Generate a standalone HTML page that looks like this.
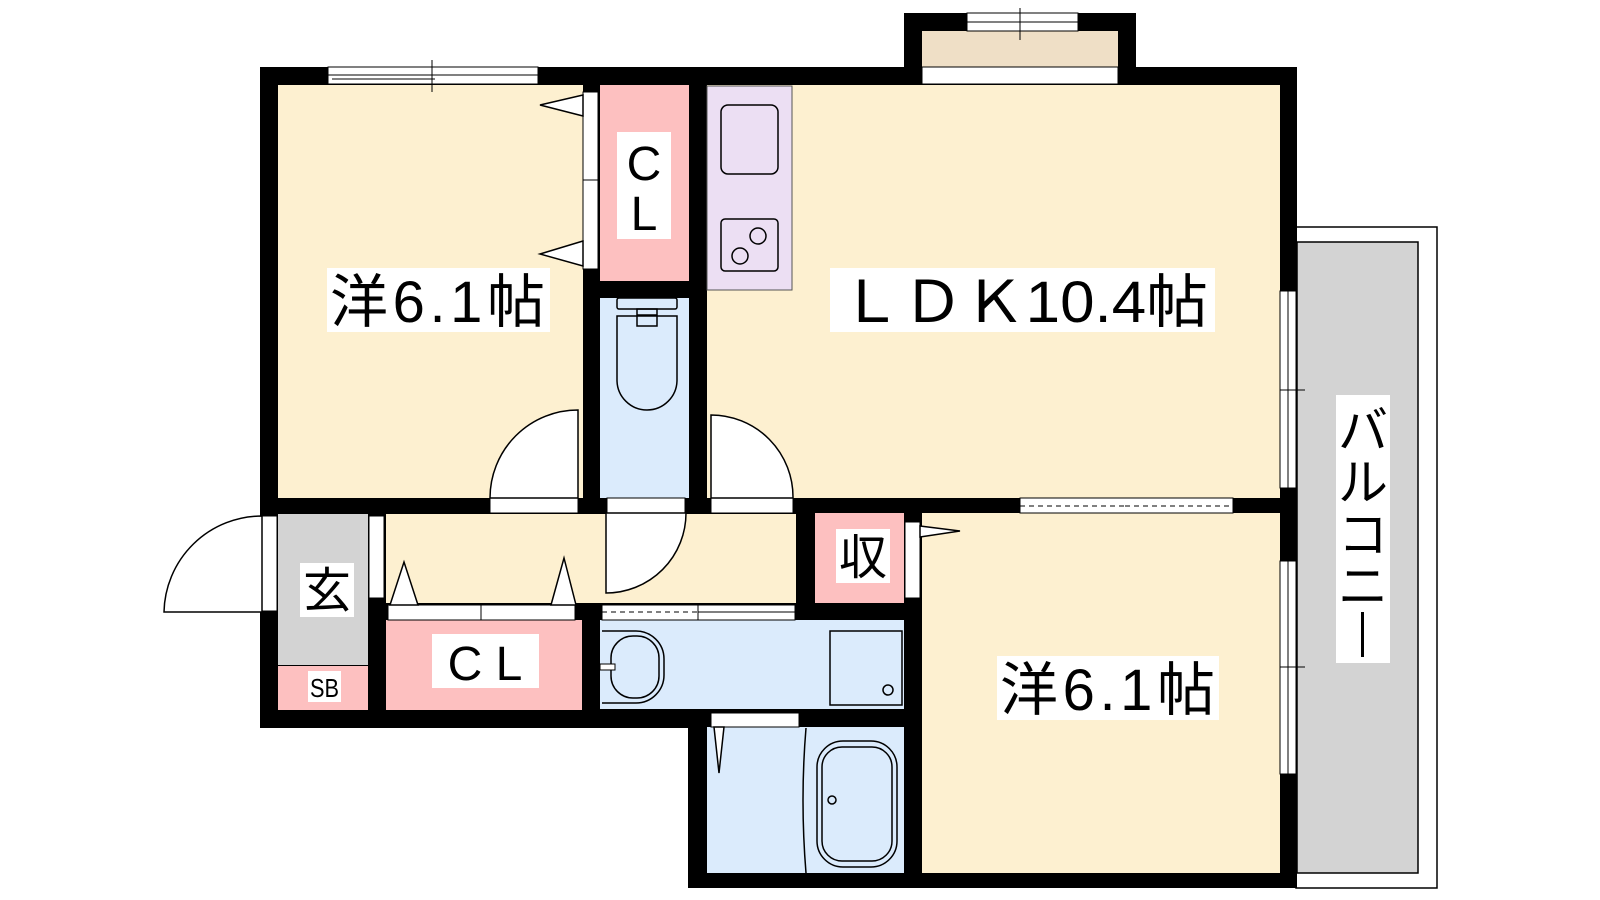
<!DOCTYPE html>
<html><head><meta charset="utf-8"><style>
html,body{margin:0;padding:0;background:#fff;width:1600px;height:900px;overflow:hidden}
svg{display:block}
text{font-family:"Liberation Sans","Noto Sans CJK JP",sans-serif;fill:#000}
</style></head><body>
<svg width="1600" height="900" viewBox="0 0 1600 900" xmlns="http://www.w3.org/2000/svg">
<rect x="1296" y="227" width="141" height="661" fill="#fff" stroke="#000" stroke-width="1.5"/>
<rect x="1297" y="242" width="121" height="631" fill="#d3d3d3" stroke="#000" stroke-width="1.5"/>
<rect x="260" y="67" width="1037" height="661" fill="#000"/>
<rect x="688" y="700" width="609" height="188" fill="#000"/>
<rect x="904" y="13" width="232" height="72" fill="#000"/>
<rect x="220" y="728" width="468" height="172" fill="#fff"/>
<rect x="278" y="85" width="305" height="413" fill="#fdf0d0"/>
<rect x="707" y="85" width="573" height="413" fill="#fdf0d0"/>
<rect x="922" y="31" width="196" height="36" fill="#efdfc6"/>
<rect x="922" y="67" width="196" height="17" fill="#fff" stroke="#000" stroke-width="1"/>
<rect x="600" y="85" width="89" height="196" fill="#fdc0c0"/>
<rect x="707" y="86" width="85" height="204" fill="#ecdff3" stroke="#555" stroke-width="1"/>
<rect x="600" y="298" width="89" height="200" fill="#dbebfc"/>
<rect x="278" y="514" width="90" height="151" fill="#d3d3d3"/>
<rect x="278" y="666" width="90" height="44" fill="#fdc0c0"/>
<line x1="278" y1="665.5" x2="368" y2="665.5" stroke="#000"/>
<rect x="386" y="514" width="410" height="89" fill="#fdf0d0"/>
<rect x="815" y="513" width="89" height="90" fill="#fdc0c0"/>
<rect x="386" y="620" width="196" height="90" fill="#fdc0c0"/>
<rect x="600" y="620" width="304" height="89" fill="#dbebfc"/>
<rect x="707" y="727" width="197" height="146" fill="#dbebfc"/>
<rect x="922" y="513" width="358" height="360" fill="#fdf0d0"/>
<g fill="#fff" stroke="#000" stroke-width="1">
<rect x="328" y="67" width="210" height="17"/>
<rect x="967" y="13" width="111" height="18"/>
<rect x="1280" y="291" width="16" height="197"/>
<rect x="1280" y="561" width="16" height="213"/>
<rect x="1020" y="498" width="213" height="15"/>
<rect x="583" y="92" width="15" height="88"/><rect x="583" y="180" width="15" height="89"/>
<rect x="490" y="498" width="88" height="15"/>
<rect x="607" y="498" width="78" height="15"/>
<rect x="711" y="498" width="82" height="15"/>
<rect x="262" y="516" width="15" height="95"/>
<rect x="369" y="516" width="15" height="82"/>
<rect x="388" y="605" width="93" height="15"/><rect x="481" y="605" width="94" height="15"/>
<rect x="602" y="605" width="96" height="15"/><rect x="698" y="605" width="97" height="15"/>
<rect x="711" y="713" width="88" height="14"/>
<rect x="905" y="522" width="15" height="76"/>
</g>
<g stroke="#000" stroke-width="1" fill="none">
<line x1="328" y1="75" x2="538" y2="75"/><line x1="332" y1="79" x2="435" y2="79"/>
<line x1="432" y1="60" x2="432" y2="92"/>
<line x1="967" y1="22" x2="1078" y2="22"/><line x1="1020" y1="8" x2="1020" y2="40"/>
<line x1="1288" y1="291" x2="1288" y2="488"/><line x1="1280" y1="390" x2="1305" y2="390"/>
<line x1="1288" y1="561" x2="1288" y2="774"/><line x1="1280" y1="667" x2="1305" y2="667"/>
<line x1="1020" y1="506" x2="1125" y2="506" stroke-dasharray="5,4"/><line x1="1125" y1="506" x2="1233" y2="506" stroke-dasharray="5,4"/>
<line x1="602" y1="612" x2="698" y2="612" stroke-dasharray="5,4"/>
<line x1="698" y1="612" x2="795" y2="612"/>
</g>
<g fill="#fff" stroke="#000" stroke-width="1.5">
<path d="M578 498 L578 410 A88 88 0 0 0 490 498 Z"/>
<path d="M711 498 L711 415 A82 82 0 0 1 793 498 Z"/>
<path d="M606 513 L686 513 A80 80 0 0 1 606 593 Z"/>
<path d="M262 612 L164 612 A98 98 0 0 1 262 516 Z"/>
<polygon points="583,95 540,105 583,116"/>
<polygon points="583,241 540,254 583,266"/>
<polygon points="390,605 404,562 418,605"/>
<polygon points="551,605 564,558 576,605"/>
<polygon points="920,526 960,531 920,537"/>
<polygon points="714,727 719,773 724,727"/>
</g>
<g fill="none" stroke="#000" stroke-width="1.5">
<rect x="721" y="105" width="57" height="69" rx="7"/>
<rect x="721" y="219" width="57" height="52" rx="4"/>
<circle cx="758" cy="236" r="8"/><circle cx="740" cy="256" r="8"/>
<rect x="617" y="298" width="60" height="11" rx="2"/>
<rect x="637" y="309" width="20" height="6"/>
<path d="M617 316 H677 V380 A30 30 0 0 1 617 380 Z"/>
<path d="M637 316 V326 H657 V316"/>
<path d="M602 631 H636 A28 28 0 0 1 664 659 V675 A28 28 0 0 1 636 703 H602"/>
<rect x="611" y="636" width="48" height="62" rx="22"/>
<rect x="830" y="631" width="72" height="74"/><circle cx="888" cy="690" r="5"/>
<path d="M806 728 Q800 800 806 873"/>
<rect x="817" y="741" width="80" height="126" rx="26"/>
<rect x="822" y="747" width="70" height="114" rx="20"/>
<circle cx="832" cy="800" r="4"/>
</g>
<rect x="600" y="664" width="15" height="6" fill="#fff" stroke="#000"/>
<g>
<rect x="327" y="268" width="223" height="64" fill="#fff"/>
<text x="330" y="322" font-size="58" textLength="215" lengthAdjust="spacing">洋6.1帖</text>
<rect x="830" y="268" width="385" height="64" fill="#fff"/>
<text x="840" y="322" font-size="58" textLength="368" lengthAdjust="spacingAndGlyphs">ＬＤＫ10.4帖</text>
<rect x="997" y="656" width="222" height="64" fill="#fff"/>
<text x="1000" y="710" font-size="58" textLength="215" lengthAdjust="spacing">洋6.1帖</text>
<rect x="1336" y="395" width="54" height="268" fill="#fff"/>
<text x="1363" y="448" font-size="50" text-anchor="middle">バ</text>
<text x="1363" y="500" font-size="50" text-anchor="middle">ル</text>
<text x="1363" y="552" font-size="50" text-anchor="middle">コ</text>
<text x="1363" y="604" font-size="50" text-anchor="middle">ニ</text>
<rect x="1361" y="612" width="3" height="45" fill="#000"/>
<rect x="617" y="132" width="54" height="107" fill="#fff"/>
<text x="644" y="180" font-size="48" text-anchor="middle">C</text>
<text x="644" y="230" font-size="48" text-anchor="middle">L</text>
<rect x="432" y="634" width="107" height="54" fill="#fff"/>
<text x="485" y="680" font-size="48" text-anchor="middle">C L</text>
<rect x="836" y="529" width="54" height="54" fill="#fff"/>
<text x="863" y="574" font-size="48" text-anchor="middle">収</text>
<rect x="300" y="563" width="54" height="54" fill="#fff"/>
<text x="327" y="607" font-size="48" text-anchor="middle">玄</text>
<rect x="308" y="671" width="33" height="31" fill="#fff"/>
<text x="324.5" y="697" font-size="26" text-anchor="middle" textLength="29" lengthAdjust="spacingAndGlyphs">SB</text>
</g>
</svg>
</body></html>
